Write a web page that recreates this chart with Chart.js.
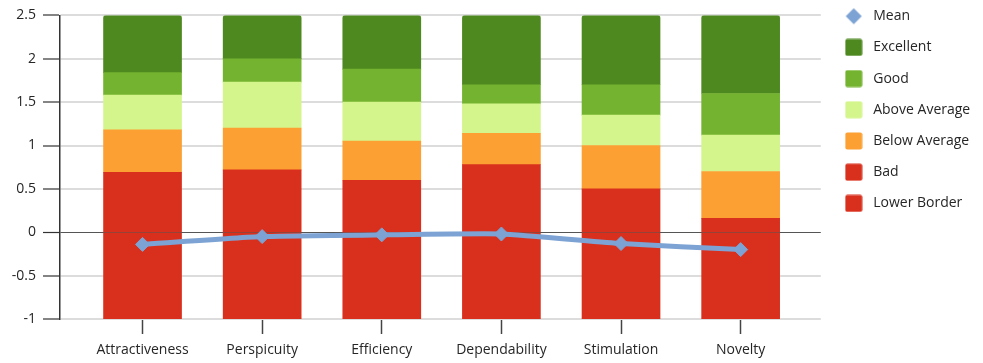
<!DOCTYPE html>
<html>
<head>
<meta charset="utf-8">
<script src="https://cdn.jsdelivr.net/npm/chart.js@4.4.1/dist/chart.umd.min.js"></script>
<style>
  html, body { margin: 0; padding: 0; background: #fff; }
  #wrap { width: 983px; height: 363px; }
</style>
</head>
<body>
<div id="wrap"><canvas id="chart" width="983" height="363"></canvas></div>
<script>
// categorias y valores del benchmark
const categories = ["Attractiveness", "Perspicuity", "Efficiency", "Dependability", "Stimulation", "Novelty"];
const lowerBorder = [-1, -1, -1, -1, -1, -1];
const bad = [0.69, 0.72, 0.60, 0.78, 0.50, 0.16];
const belowAverage = [0.49, 0.48, 0.45, 0.36, 0.50, 0.54];
const aboveAverage = [0.40, 0.53, 0.45, 0.34, 0.35, 0.42];
const good = [0.26, 0.27, 0.38, 0.22, 0.35, 0.48];
const excellent = [0.66, 0.50, 0.62, 0.80, 0.80, 0.90];
const mean = [-0.14, -0.05, -0.03, -0.02, -0.13, -0.20];

const RED = "#d9301e";
const ORANGE = "#fca033";
const LIGHT = "#d4f58c";
const GREEN = "#74b32f";
const DARK = "#4e8920";
const BLUE = "#7ca3d3";
const TEXT = "#262626";

function points(values) {
  return values.map((v, i) => ({ x: i, y: v }));
}

// pequeñas marcas para la leyenda
function legendMark(color, diamond) {
  const c = document.createElement("canvas");
  c.width = 18;
  c.height = 18;
  const g = c.getContext("2d");
  g.fillStyle = color;
  g.beginPath();
  if (diamond) {
    g.moveTo(9, 1);
    g.lineTo(17, 9);
    g.lineTo(9, 17);
    g.lineTo(1, 9);
    g.closePath();
  } else if (g.roundRect) {
    g.roundRect(0.5, 0.5, 17, 17, 2);
  } else {
    g.rect(0.5, 0.5, 17, 17);
  }
  g.fill();
  return c;
}

function barSet(label, values, color, radius) {
  return {
    type: "bar",
    label: label,
    data: points(values),
    backgroundColor: color,
    borderWidth: 0,
    borderRadius: radius || 0,
    borderSkipped: false,
    barThickness: 78,
    stack: "bench",
    order: 1,
    mark: legendMark(color, false),
  };
}

const datasets = [
  barSet("Lower Border", lowerBorder, RED),
  barSet("Bad", bad, RED),
  barSet("Below Average", belowAverage, ORANGE),
  barSet("Above Average", aboveAverage, LIGHT),
  barSet("Good", good, GREEN),
  barSet("Excellent", excellent, DARK, { topLeft: 3, topRight: 3, bottomLeft: 0, bottomRight: 0 }),
  {
    type: "line",
    label: "Mean",
    data: points(mean),
    borderColor: BLUE,
    backgroundColor: BLUE,
    borderWidth: 5,
    pointStyle: "rectRot",
    pointRadius: 7,
    pointBackgroundColor: BLUE,
    pointBorderColor: BLUE,
    pointBorderWidth: 1,
    tension: 0.15,
    stack: "mean",
    order: -1,
    mark: legendMark(BLUE, true),
  },
];

// colocar la leyenda a mano
const legendPlace = {
  id: "legendPlace",
  afterLayout(chart) {
    const lg = chart.legend;
    const w = lg.right - lg.left;
    const h = lg.bottom - lg.top;
    lg.left = 824;
    lg.right = lg.left + w;
    lg.top = -8;
    lg.bottom = lg.top + h;
  },
};

Chart.defaults.font.family = "'Open Sans', 'Noto Sans', sans-serif";
Chart.defaults.font.size = 14;
Chart.defaults.color = TEXT;

const ctx = document.getElementById("chart").getContext("2d");
const chart = new Chart(ctx, {
  type: "bar",
  data: { datasets: datasets },
  plugins: [legendPlace],
  options: {
    responsive: false,
    animation: false,
    layout: { padding: { top: 7, right: 6, bottom: 0, left: 0 } },
    plugins: {
      tooltip: { enabled: false },
      legend: {
        position: "right",
        align: "start",
        maxWidth: 160,
        labels: {
          usePointStyle: true,
          pointStyleWidth: 25,
          padding: 17.2,
          color: TEXT,
          font: { size: 14 },
          sort: (a, b) => b.datasetIndex - a.datasetIndex,
          generateLabels(chart) {
            const items = Chart.defaults.plugins.legend.labels.generateLabels(chart);
            items.forEach((it) => {
              it.pointStyle = chart.data.datasets[it.datasetIndex].mark;
            });
            return items;
          },
        },
      },
    },
    scales: {
      x: {
        type: "linear",
        min: -0.69,
        max: 5.67,
        offset: false,
        afterBuildTicks(axis) {
          axis.ticks = categories.map((c, i) => ({ value: i }));
        },
        afterFit(scale) {
          scale.height = 44;
        },
        ticks: {
          autoSkip: false,
          maxRotation: 0,
          padding: 8,
          color: TEXT,
          callback: (v) => categories[v],
        },
        grid: {
          offset: false,
          drawOnChartArea: false,
          drawTicks: true,
          tickLength: 15,
          tickColor: "#444",
          tickWidth: 1.5,
        },
        border: { display: false },
      },
      y: {
        min: -1,
        max: 2.5,
        ticks: { stepSize: 0.5, padding: 7, color: TEXT, callback: (v) => String(v) },
        afterFit(scale) {
          scale.width = 60;
        },
        grid: {
          color: (c) => (c.tick && c.tick.value === 0 ? "#555" : "#dcdcdc"),
          lineWidth: (c) => (c.tick && c.tick.value === 0 ? 1 : 2),
          tickColor: "#333",
          tickWidth: 1.2,
          tickLength: 17,
        },
        border: { display: true, color: "#333", width: 1.5 },
      },
    },
  },
});
</script>
</body>
</html>
